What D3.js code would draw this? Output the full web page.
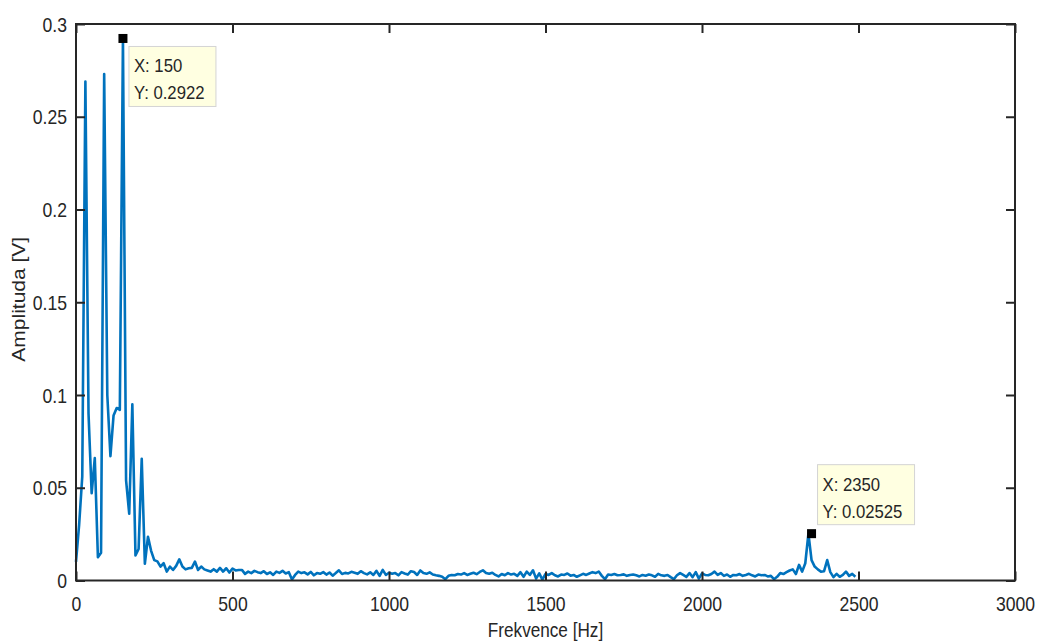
<!DOCTYPE html>
<html>
<head>
<meta charset="utf-8">
<script src="https://cdn.jsdelivr.net/npm/d3@7"></script>
<style>
  html, body { margin: 0; padding: 0; background: #fff; }
  svg { display: block; }
  text { font-family: "Liberation Sans", Arial, Helvetica, sans-serif; fill: #262626; }
</style>
</head>
<body>
<svg id="chart" width="1037" height="642"></svg>
<script>
// ---- Data (frequency step 10 Hz, 0..2500 Hz) ----
const freqStep = 10;
const amplitudeLow = [
  0.010, 0.030, 0.056, 0.269, 0.090, 0.047, 0.066, 0.0125, 0.015, 0.273,
  0.100, 0.067, 0.089, 0.093, 0.092, 0.2922, 0.054, 0.036, 0.095, 0.0135,
  0.017, 0.0656, 0.009, 0.0236, 0.016, 0.011, 0.0103, 0.0075, 0.0093, 0.0048,
  0.0075, 0.0057, 0.0079, 0.0114, 0.0075, 0.0060, 0.0066, 0.0068, 0.0102, 0.0057,
  0.0075, 0.0060, 0.0054, 0.0048, 0.0061, 0.0048, 0.0068, 0.0048, 0.0066, 0.0043,
  0.0064, 0.0054, 0.0057, 0.0057, 0.0036
];
const amplitudeMid = [
  0.0048, 0.0040, 0.0052, 0.0045,
  0.0040, 0.0050, 0.0035, 0.0044, 0.0030, 0.0048, 0.0041, 0.0052, 0.0038, 0.0045,
  0.0005, 0.0030, 0.0048, 0.0040, 0.0044, 0.0033, 0.0046, 0.0028, 0.0040, 0.0036,
  0.0045, 0.0032, 0.0043, 0.0026, 0.0040, 0.0055, 0.0035, 0.0041, 0.0038, 0.0047,
  0.0042, 0.0036, 0.0050, 0.0040, 0.0033, 0.0044, 0.0030, 0.0052, 0.0025, 0.0057,
  0.0030, 0.0042, 0.0036, 0.0040, 0.0028, 0.0045, 0.0038, 0.0032, 0.0050, 0.0046,
  0.0030, 0.0054, 0.0040, 0.0036, 0.0044, 0.0032, 0.0028, 0.0025, 0.0020, 0.0007,
  0.0025, 0.0030, 0.0028, 0.0035, 0.0032, 0.0040, 0.0030, 0.0036, 0.0042, 0.0034,
  0.0046, 0.0055, 0.0040, 0.0036, 0.0042, 0.0030, 0.0022, 0.0035, 0.0028, 0.0040,
  0.0032, 0.0036, 0.0025, 0.0045, 0.0020, 0.0048, 0.0030, 0.0055, 0.0010, 0.0038,
  0.0005, 0.0035, 0.0030, 0.0040, 0.0028, 0.0022, 0.0032, 0.0030, 0.0038, 0.0026,
  0.0030, 0.0020, 0.0028, 0.0036, 0.0030, 0.0038, 0.0045, 0.0040, 0.0048, 0.0025,
  0.0007, 0.0032, 0.0030, 0.0035, 0.0028, 0.0030, 0.0033, 0.0025, 0.0030, 0.0032,
  0.0028, 0.0022, 0.0030, 0.0026, 0.0032, 0.0028, 0.0020, 0.0036, 0.0028, 0.0025,
  0.0030, 0.0018, 0.0007, 0.0028, 0.0040, 0.0030, 0.0020, 0.0040, 0.0018, 0.0045,
  0.0010, 0.0038, 0.0030, 0.0028, 0.0035, 0.0048, 0.0030, 0.0040, 0.0025, 0.0032,
  0.0020, 0.0030, 0.0028, 0.0035, 0.0025, 0.0030, 0.0036, 0.0028, 0.0022, 0.0032,
  0.0028, 0.0030, 0.0022, 0.0025, 0.0007, 0.0020, 0.0040, 0.0035, 0.0045, 0.0054
];
const amplitudeHigh = [
  0.0060, 0.0035, 0.0084, 0.0048, 0.0093, 0.02525, 0.011, 0.0075, 0.0060, 0.0048,
  0.0050, 0.011, 0.0045, 0.0018, 0.0036, 0.0020, 0.0030, 0.0048, 0.0025, 0.0036,
  0.0020
];
const amplitude = amplitudeLow.concat(amplitudeMid, amplitudeHigh);
const frequency = amplitude.map((_, i) => i * freqStep);

const xTicks = [0, 500, 1000, 1500, 2000, 2500, 3000];
const yTicks = [0, 0.05, 0.1, 0.15, 0.2, 0.25, 0.3];
const xLabel = "Frekvence [Hz]";
const yLabel = "Amplituda [V]";
const dataTips = [
  { x: 150, y: 0.2922, lines: ["X: 150", "Y: 0.2922"], place: "below" },
  { x: 2350, y: 0.02525, lines: ["X: 2350", "Y: 0.02525"], place: "above" }
];

// ---- Layout ----
const svg = d3.select("#chart");
const L = 76, R = 1015, T = 24, B = 580.5;
const x = d3.scaleLinear().domain([0, 3000]).range([L, R]);
const y = d3.scaleLinear().domain([0, 0.3]).range([B, T]);
const axisColor = "#262626";
const tickLen = 9;
const sx = 0.88; // horizontal condensation of the reference text

// line
const line = d3.line().x((d, i) => x(frequency[i])).y(d => y(d));
svg.append("path")
  .datum(amplitude)
  .attr("d", line)
  .attr("fill", "none")
  .attr("stroke", "#0072BD")
  .attr("stroke-width", 2.6)
  .attr("stroke-linejoin", "round");

// axes (inward ticks on all four sides)
const fmtY = d => d === 0 ? "0" : String(+d.toFixed(2));
const gBottom = svg.append("g").attr("transform", `translate(0,${B})`)
  .call(d3.axisBottom(x).tickValues(xTicks).tickSizeInner(-tickLen).tickSizeOuter(0).tickPadding(16).tickFormat(d3.format("d")));
const gTop = svg.append("g").attr("transform", `translate(0,${T})`)
  .call(d3.axisTop(x).tickValues(xTicks).tickSizeInner(-tickLen).tickSizeOuter(0).tickFormat(""));
const gLeft = svg.append("g").attr("transform", `translate(${L},0)`)
  .call(d3.axisLeft(y).tickValues(yTicks).tickSizeInner(-tickLen).tickSizeOuter(0).tickPadding(8).tickFormat(fmtY));
const gRight = svg.append("g").attr("transform", `translate(${R},0)`)
  .call(d3.axisRight(y).tickValues(yTicks).tickSizeInner(-tickLen).tickSizeOuter(0).tickFormat(""));

[gBottom, gTop, gLeft, gRight].forEach(g => {
  g.select(".domain").remove();
  g.selectAll(".tick line").attr("stroke", axisColor).attr("stroke-width", 2);
  g.selectAll(".tick text").attr("font-size", 20).attr("fill", axisColor)
    .attr("font-family", "'Liberation Sans', Arial, sans-serif");
});
gBottom.selectAll(".tick text").attr("transform", `scale(${sx},1)`);
gLeft.selectAll(".tick text")
  .attr("x", 0).attr("dy", "0.36em")
  .attr("transform", `translate(-9,0) scale(${sx},1)`);

// box frame
svg.append("rect")
  .attr("x", L).attr("y", T).attr("width", R - L).attr("height", B - T)
  .attr("fill", "none").attr("stroke", axisColor).attr("stroke-width", 2);

// axis labels
svg.append("text")
  .attr("transform", `translate(${(L + R) / 2},${B + 56}) scale(${sx},1)`)
  .attr("text-anchor", "middle")
  .attr("font-size", 19.5)
  .text(xLabel);
svg.append("text")
  .attr("transform", `translate(25,${(T + B) / 2 - 3}) rotate(-90) scale(1,${sx})`)
  .attr("text-anchor", "middle")
  .attr("font-size", 21)
  .text(yLabel);

// data tips
dataTips.forEach(tip => {
  const px = x(tip.x), py = y(tip.y);
  const bw = tip.place === "below" ? 87 : 97;
  const bh = 60;
  const bx = px + 6;
  const by = tip.place === "below" ? py + 8 : py - 69;
  svg.append("rect")
    .attr("x", bx).attr("y", by).attr("width", bw).attr("height", bh)
    .attr("fill", "#FFFFE1").attr("stroke", "#D4D4D4").attr("stroke-width", 1);
  tip.lines.forEach((s, k) => {
    svg.append("text")
      .attr("transform", `translate(${bx + 5},${by + 26 + k * 27}) scale(${sx},1)`)
      .attr("font-size", 19).attr("fill", "#1a1a1a")
      .text(s);
  });
  svg.append("rect")
    .attr("x", px - 4.5).attr("y", py - 4.5).attr("width", 9).attr("height", 9)
    .attr("fill", "#000");
});
</script>
</body>
</html>
